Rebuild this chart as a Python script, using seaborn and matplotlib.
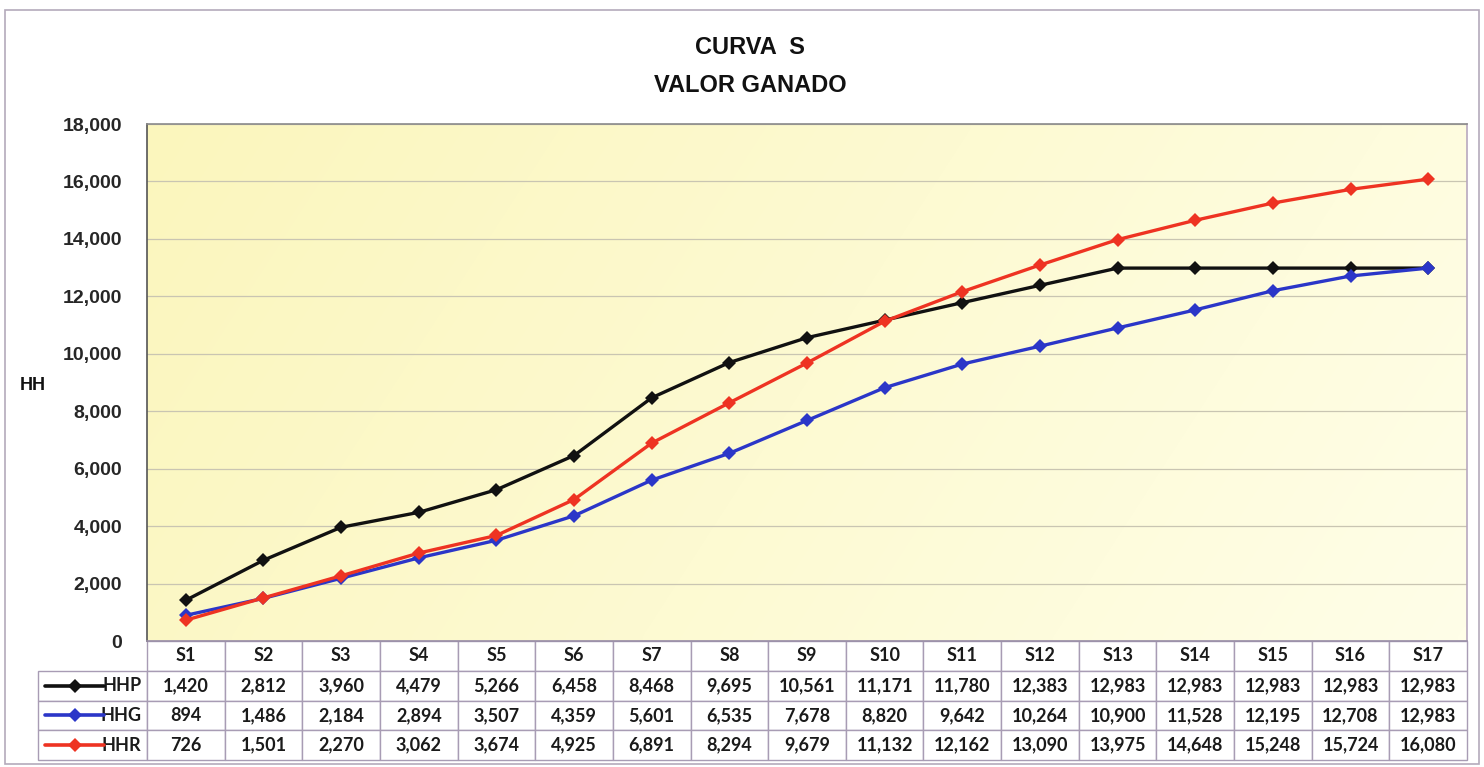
import numpy as np
import pandas as pd
import matplotlib
matplotlib.use("Agg")
import matplotlib.pyplot as plt
from matplotlib.patches import Rectangle
from matplotlib.lines import Line2D
from matplotlib.colors import LinearSegmentedColormap
from matplotlib.ticker import FuncFormatter
import seaborn as sns

# Semanas del proyecto
semanas = ["S1", "S2", "S3", "S4", "S5", "S6", "S7", "S8", "S9", "S10",
           "S11", "S12", "S13", "S14", "S15", "S16", "S17"]

# Horas-hombre acumuladas
hhp = [1420, 2812, 3960, 4479, 5266, 6458, 8468, 9695, 10561, 11171,
       11780, 12383, 12983, 12983, 12983, 12983, 12983]
hhg = [894, 1486, 2184, 2894, 3507, 4359, 5601, 6535, 7678, 8820,
       9642, 10264, 10900, 11528, 12195, 12708, 12983]
hhr = [726, 1501, 2270, 3062, 3674, 4925, 6891, 8294, 9679, 11132,
       12162, 13090, 13975, 14648, 15248, 15724, 16080]

series = ["HHP", "HHG", "HHR"]
colores = {"HHP": "#111111", "HHG": "#2b36c8", "HHR": "#ee3322"}
yticks = list(range(0, 18001, 2000))

df = pd.concat([
    pd.DataFrame({"idx": range(len(semanas)), "semana": semanas, "HH": v, "serie": s})
    for s, v in zip(series, [hhp, hhg, hhr])
], ignore_index=True)

sns.set_style("white")
plt.rcParams["font.family"] = ["Liberation Sans", "DejaVu Sans"]

W, H = 1484, 767
fig = plt.figure(figsize=(W / 100, H / 100), dpi=100)
fig.patch.set_facecolor("white")

# plot area in pixels
px0, px1, py0, py1 = 147, 1467, 124, 641
ax = fig.add_axes([px0 / W, 1 - py1 / H, (px1 - px0) / W, (py1 - py0) / H])

# pale yellow gradient background
grad_cmap = LinearSegmentedColormap.from_list("bg", ["#fbf6bd", "#fdfad2", "#fffee8"])
gx, gy = np.meshgrid(np.linspace(0, 1, 256), np.linspace(0, 1, 64))
g = 0.8 * gx + 0.2 * gy
ax.imshow(g, cmap=grad_cmap, extent=[0, 1, 0, 1], transform=ax.transAxes,
          aspect="auto", zorder=0, origin="upper", interpolation="bilinear")

for yv in yticks[1:]:
    ax.axhline(yv, color="#c9c5b2", lw=0.9, zorder=1)

sns.lineplot(data=df, x="idx", y="HH", hue="serie", hue_order=series,
             palette=colores, marker="D", markersize=7, markeredgewidth=0,
             linewidth=2.4, legend=False, ax=ax, zorder=3)

ax.set_xlim(-0.5, len(semanas) - 0.5)
ax.set_ylim(0, 18000)
ax.set_yticks(yticks)
ax.yaxis.set_major_formatter(FuncFormatter(lambda v, p: f"{int(v):,}"))
ax.tick_params(axis="y", labelsize=14, length=0, pad=18)
for lab in ax.get_yticklabels():
    lab.set_fontweight("bold")
ax.set_xticks([])
ax.set_xlabel("")
ax.set_ylabel("")
for side, col in [("left", "#555555"), ("top", "#8a8a8a"), ("right", "#b8a8bf"), ("bottom", "#9a8fa8")]:
    ax.spines[side].set_color(col)
    ax.spines[side].set_linewidth(1.2)

# data table under the plot, first column holds the series names
tx0, ty1 = 38, 760
label_w = px0 - tx0
col_w = (px1 - px0) / len(semanas)
tot_w = label_w + col_w * len(semanas)
cell_text = [[s] + [f"{v:,}" for v in vals] for s, vals in zip(series, [hhp, hhg, hhr])]
tbl = ax.table(cellText=cell_text, colLabels=[""] + semanas,
               cellLoc="center", colLoc="center",
               colWidths=[label_w / tot_w] + [col_w / tot_w] * len(semanas),
               bbox=[(tx0 - px0) / (px1 - px0), -(ty1 - py1) / (py1 - py0),
                     tot_w / (px1 - px0), (ty1 - py1) / (py1 - py0)])
tbl.auto_set_font_size(False)
for (r, c), cell in tbl.get_celld().items():
    cell.set_edgecolor("#a89cb4")
    cell.set_linewidth(1.0)
    cell.set_facecolor("white")
    txt = cell.get_text()
    txt.set_fontsize(13)
    txt.set_fontweight("bold")
    txt.set_fontfamily(["Lato", "DejaVu Sans"])
    txt.set_color("#1a1a1a")
    if c == 0:
        cell._loc = "right"
        cell.PAD = 0.05
        txt.set_horizontalalignment("right")
        if r == 0:
            cell.visible_edges = ""
            cell.set_facecolor("none")

# legend keys inside the row label cells
row_h = (ty1 - py1) / 4
for i, s in enumerate(series):
    yc = py1 + row_h * (i + 1.5)
    yy = -(yc - py1) / (py1 - py0)
    xa = (45 - px0) / (px1 - px0)
    xb = (104 - px0) / (px1 - px0)
    ax.add_line(Line2D([xa, xb], [yy, yy], color=colores[s], lw=2.6,
                       transform=ax.transAxes, clip_on=False, zorder=5))
    ax.add_line(Line2D([(xa + xb) / 2], [yy], color=colores[s], marker="D",
                       markersize=7, markeredgewidth=0, lw=0,
                       transform=ax.transAxes, clip_on=False, zorder=5))

# titles and axis label
fig.text(750 / W, 1 - 48 / H, "CURVA  S", ha="center", va="center",
         fontsize=17, fontweight="bold", color="#111111")
fig.text(750 / W, 1 - 85 / H, "VALOR GANADO", ha="center", va="center",
         fontsize=17, fontweight="bold", color="#111111")
fig.text(33 / W, 1 - 386 / H, "HH", ha="center", va="center",
         fontsize=13, fontweight="bold", color="#111111")

# outer chart border
fig.patches.append(Rectangle((5 / W, 3 / H), 1474 / W, 754 / H, transform=fig.transFigure,
                             fill=False, edgecolor="#b4aabb", lw=1.2))

fig.savefig("out.png", dpi=100)
